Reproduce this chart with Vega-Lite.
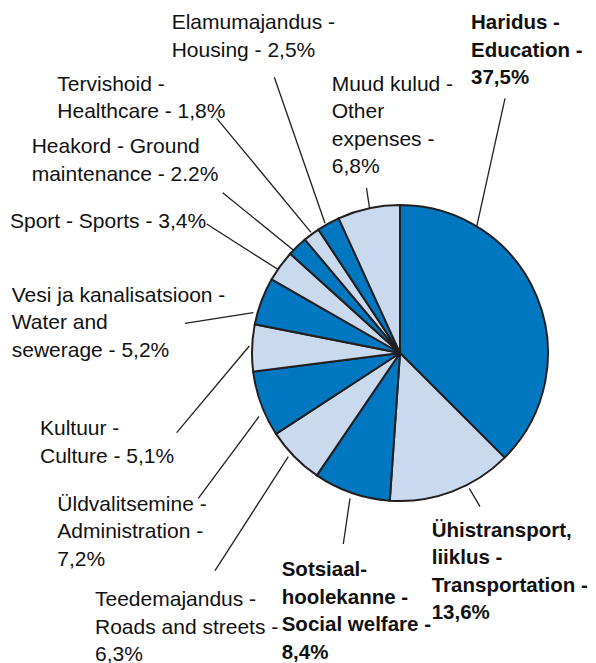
{
  "$schema": "https://vega.github.io/schema/vega-lite/v6.json",
  "width": 596,
  "height": 663,
  "padding": 0,
  "autosize": {"type": "none"},
  "background": "white",
  "config": {"view": {"stroke": null}},
  "data": {
    "values": [
      {"i": 1, "name": "Haridus", "share": 37.5, "label": "Haridus -\nEducation -\n37,5%", "lx": 71, "ly": 323.7, "ox": 105, "oy": 254.7, "px": 76.7, "py": 126.3},
      {"i": 2, "name": "Ühistransport", "share": 13.6, "label": "Ühistransport,\nliiklus -\nTransportation -\n13,6%", "lx": 31.7, "ly": -183.7, "ox": 80, "oy": -153.7, "px": 69.3, "py": -135.3},
      {"i": 3, "name": "Sotsiaalhoolekanne", "share": 8.4, "label": "Sotsiaal-\nhoolekanne -\nSocial welfare -\n8,4%", "lx": -118.3, "ly": -223, "ox": -56.7, "oy": -191, "px": -50, "py": -145.3},
      {"i": 4, "name": "Teedemajandus", "share": 6.3, "label": "Teedemajandus -\nRoads and streets -\n6,3%", "lx": -305, "ly": -253, "ox": -185, "oy": -217.7, "px": -111.7, "py": -103.7},
      {"i": 5, "name": "Üldvalitsemine", "share": 7.2, "label": "Üldvalitsemine -\nAdministration  -\n7,2%", "lx": -342.7, "ly": -157.7, "ox": -201.7, "oy": -145.3, "px": -141, "py": -63.5},
      {"i": 6, "name": "Kultuur", "share": 5.1, "label": "Kultuur -\nCulture - 5,1%", "lx": -360, "ly": -82, "ox": -223.3, "oy": -79.7, "px": -150.7, "py": 7},
      {"i": 7, "name": "Vesi ja kanalisatsioon", "share": 5.2, "label": "Vesi ja kanalisatsioon -\nWater and\nsewerage - 5,2%", "lx": -388.3, "ly": 51.3, "ox": -215, "oy": 29.7, "px": -146.7, "py": 40.3},
      {"i": 8, "name": "Sport", "share": 3.4, "label": "Sport - Sports - 3,4%", "lx": -390, "ly": 125, "ox": -193.3, "oy": 129, "px": -122.7, "py": 84},
      {"i": 9, "name": "Heakord", "share": 2.2, "label": "Heakord - Ground\nmaintenance - 2.2%", "lx": -368.3, "ly": 199.7, "ox": -177.3, "oy": 160.3, "px": -106.7, "py": 103},
      {"i": 10, "name": "Tervishoid", "share": 1.8, "label": "Tervishoid -\nHealthcare - 1,8%", "lx": -342.7, "ly": 262.3, "ox": -183.3, "oy": 234.7, "px": -89, "py": 120.7},
      {"i": 11, "name": "Elamumajandus", "share": 2.5, "label": "Elamumajandus -\nHousing - 2,5%", "lx": -228.3, "ly": 323.7, "ox": -125.7, "oy": 275.7, "px": -75, "py": 129.7},
      {"i": 12, "name": "Muud kulud", "share": 6.8, "label": "Muud kulud -\nOther\nexpenses -\n6,8%", "lx": -68.3, "ly": 262.3, "ox": -33.5, "oy": 165, "px": -30.5, "py": 145}
    ]
  },
  "layer": [
    {
      "mark": {"type": "arc", "outerRadius": 148, "stroke": "#231F20", "strokeWidth": 2},
      "encoding": {
        "x": {"datum": 0, "type": "quantitative", "scale": {"domain": [-400, 196], "nice": false, "zero": false}, "axis": null},
        "y": {"datum": 0, "type": "quantitative", "scale": {"domain": [-310, 353], "nice": false, "zero": false}, "axis": null},
        "theta": {"field": "share", "type": "quantitative", "stack": true},
        "order": {"field": "i", "type": "quantitative"},
        "color": {
          "field": "name", "type": "nominal", "legend": null,
          "scale": {
            "domain": ["Haridus", "Ühistransport", "Sotsiaalhoolekanne", "Teedemajandus", "Üldvalitsemine", "Kultuur", "Vesi ja kanalisatsioon", "Sport", "Heakord", "Tervishoid", "Elamumajandus", "Muud kulud"],
            "range": ["#0078C1", "#CADAEE", "#0078C1", "#CADAEE", "#0078C1", "#CADAEE", "#0078C1", "#CADAEE", "#0078C1", "#CADAEE", "#0078C1", "#CADAEE"]
          }
        }
      }
    },
    {
      "mark": {"type": "rule", "color": "#231F20", "strokeWidth": 1.3},
      "encoding": {
        "x": {"field": "ox", "type": "quantitative", "axis": null},
        "y": {"field": "oy", "type": "quantitative", "axis": null},
        "x2": {"field": "px"},
        "y2": {"field": "py"}
      }
    },
    {
      "transform": [{"filter": "datum.share < 8"}],
      "mark": {"type": "text", "align": "left", "baseline": "alphabetic", "font": "Liberation Sans", "fontSize": 21, "lineHeight": 27.5, "lineBreak": "\n", "color": "#111111"},
      "encoding": {
        "x": {"field": "lx", "type": "quantitative", "axis": null},
        "y": {"field": "ly", "type": "quantitative", "axis": null},
        "text": {"field": "label"}
      }
    },
    {
      "transform": [{"filter": "datum.share >= 8"}],
      "mark": {"type": "text", "align": "left", "baseline": "alphabetic", "font": "Liberation Sans", "fontSize": 20.5, "fontWeight": "bold", "lineHeight": 27.5, "lineBreak": "\n", "color": "#111111"},
      "encoding": {
        "x": {"field": "lx", "type": "quantitative", "axis": null},
        "y": {"field": "ly", "type": "quantitative", "axis": null},
        "text": {"field": "label"}
      }
    }
  ]
}
